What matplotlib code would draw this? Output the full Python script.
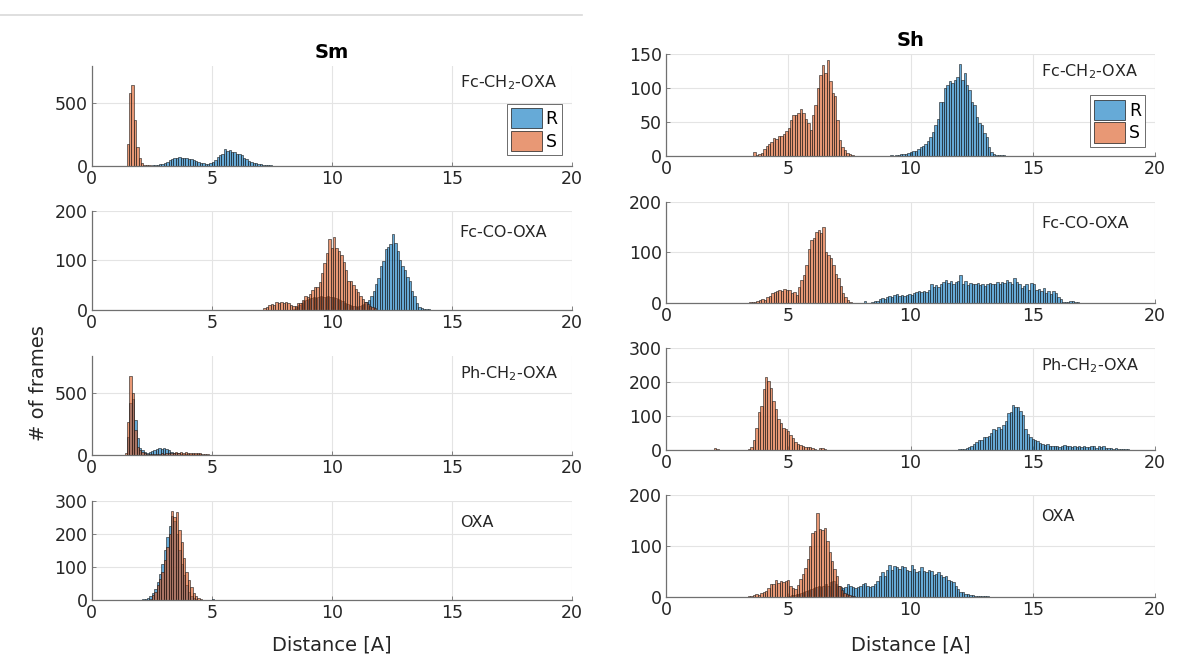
import numpy as np
import matplotlib
matplotlib.use('Agg')
import matplotlib.pyplot as plt
from matplotlib.patches import Patch
from matplotlib.lines import Line2D

BIN = 0.1
R_COLOR = (0.0, 0.447, 0.741, 0.6)
S_COLOR = (0.85, 0.325, 0.098, 0.6)
EDGE = '#1a1a1a'
AXIS_COLOR = '#707070'
TEXT_COLOR = '#262626'
TICK_SIZE = 12.5
LABEL_SIZE = 14

# ---- Sm column (counts per 0.1 A bin, first bin edge given by *_start) ----
sm_fc_ch2_r_start = 2.5
sm_fc_ch2_r = [2, 4, 8, 12, 16, 22, 30, 45, 56, 65, 62, 66, 64, 59, 62, 54, 50, 46, 38, 30,
               22, 19, 15, 13, 18, 30, 45, 70, 88, 97, 134, 118, 125, 110, 108, 97, 90, 83, 62, 51,
               35, 30, 22, 18, 14, 11, 8, 5, 3, 2]
sm_fc_ch2_s_start = 1.45
sm_fc_ch2_s = [172, 580, 645, 366, 150, 65, 20, 8, 4, 2, 1]

sm_fc_co_r_start = 8.4
sm_fc_co_r = [3, 6, 10, 14, 18, 20, 22, 24, 26, 25, 27, 28, 26, 27, 28, 27, 26, 25, 22, 20,
              18, 15, 12, 10, 9, 8, 7, 8, 10, 12, 16,
              21, 29, 38, 52, 64, 88, 98, 123, 127, 132, 153, 135, 118, 101, 89, 81, 66, 58, 38,
              29, 14, 7, 5, 3, 2, 2, 1, 1]
sm_fc_co_s_start = 7.15
sm_fc_co_s = [5, 7, 11, 13, 10, 16, 15, 17, 14, 17, 14, 11, 9, 8, 15, 14, 21, 29, 26, 33,
              41, 46, 46, 56, 74, 95, 115, 143, 125, 148, 125, 118, 111, 96, 81, 59, 58, 51, 42, 36,
              28, 22, 17, 13, 9, 6, 4]

sm_ph_ch2_r_start = 1.37
sm_ph_ch2_r = [5, 150, 420, 450, 286, 135, 55, 40, 28, 22, 25, 35, 45, 52, 55, 52, 55, 50, 42, 30,
               22, 18, 15, 14, 12, 12, 10, 10, 9, 8, 8, 7, 6, 5, 5, 4, 4, 3, 3, 3,
               2, 2, 2, 2, 1, 1]
sm_ph_ch2_s_start = 1.37
sm_ph_ch2_s = [16, 265, 635, 497, 200, 70, 40, 25, 15, 10, 8, 8, 10, 12, 12, 15, 14, 16, 18, 20,
               22, 24, 22, 25, 22, 24, 22, 20, 22, 20, 18, 16, 14, 10, 8, 6, 5, 4, 3, 2,
               2, 2, 1]

sm_oxa_r_start = 2.0
sm_oxa_r = [1, 3, 5, 7, 12, 22, 35, 55, 80, 110, 150, 190, 225, 255, 240, 200, 150, 110, 75, 45,
            25, 12, 6, 3, 2, 1, 0, 0, 0, 2, 3, 2, 1, 2, 1, 2, 1, 0, 0, 0,
            0, 0, 0, 0, 0, 0, 0, 0, 0, 0, 1, 2, 0, 1, 2, 1, 1, 2]
sm_oxa_s_start = 2.0
sm_oxa_s = [0, 0, 1, 2, 5, 16, 26, 45, 65, 85, 121, 160, 200, 270, 250, 265, 211, 176, 126, 86,
            60, 40, 22, 12, 6, 3, 1]

# ---- Sh column ----
sh_fc_ch2_r_start = 9.17
sh_fc_ch2_r = [1, 0, 2, 2, 3, 3, 3, 4, 6, 7, 8, 10, 13, 15, 18, 22, 28, 36, 45, 55,
               80, 80, 100, 104, 110, 108, 112, 116, 136, 112, 122, 105, 97, 80, 75, 58, 48, 46, 34, 28,
               13, 6, 3, 2, 2, 1, 1]
sh_fc_ch2_s_start = 3.57
sh_fc_ch2_s = [6, 2, 3, 5, 11, 15, 18, 21, 26, 25, 29, 30, 33, 37, 42, 53, 60, 60, 64, 70,
               64, 54, 48, 39, 61, 75, 100, 120, 134, 122, 142, 110, 93, 88, 53, 24, 14, 9, 5, 3, 2]

sh_fc_co_r_start = 8.1
sh_fc_co_r = [5, 0, 0, 2, 4, 5, 8, 10, 9, 12, 14, 12, 16, 18, 14, 17, 15, 17, 19, 17,
              20, 22, 24, 23, 24, 23, 27, 37, 33, 36, 33, 38, 42, 46, 40, 44, 38, 42, 44, 55,
              38, 44, 36, 40, 38, 37, 40, 36, 38, 35, 38, 40, 38, 37, 42, 38, 42, 40, 46, 42,
              38, 50, 42, 38, 30, 35, 38, 27, 39, 38, 26, 28, 24, 30, 20, 24, 18, 25, 20, 12,
              8, 3, 2, 3, 4, 4, 3, 2, 1, 1, 1]
sh_fc_co_s_start = 3.3
sh_fc_co_s = [1, 2, 2, 3, 5, 6, 8, 7, 12, 14, 20, 22, 24, 27, 24, 28, 27, 26, 20, 22,
              16, 32, 45, 55, 75, 107, 125, 128, 140, 145, 138, 150, 100, 95, 90, 75, 58, 50, 35, 20,
              12, 6, 3, 1]

sh_ph_ch2_r_start = 11.95
sh_ph_ch2_r = [2, 2, 3, 5, 8, 12, 18, 22, 28, 30, 38, 38, 40, 50, 62, 58, 68, 60, 72, 85,
               108, 112, 131, 125, 126, 115, 102, 60, 45, 38, 32, 28, 25, 20, 18, 15, 18, 12, 10, 12,
               11, 9, 12, 14, 10, 12, 8, 10, 9, 12, 8, 12, 9, 8, 10, 10, 6, 11, 7, 10,
               5, 5, 4, 3, 4, 2, 3, 2, 2, 1]
sh_ph_ch2_s_start = 1.95
sh_ph_ch2_s = [4, 3, 0, 0, 0, 0, 0, 0, 0, 0, 0, 0, 0, 0,
               3, 7, 29, 63, 110, 129, 179, 213, 203, 181, 145, 119, 90, 78, 63, 60,
               55, 43, 34, 24, 17, 14, 11, 9, 8, 7, 4, 1, 0, 4, 4, 3]

sh_oxa_r_start = 5.0
sh_oxa_r = [2, 3, 4, 5, 6, 8, 10, 12, 14, 16, 18, 20, 22, 20, 22, 25, 22, 28, 30, 25,
            22, 20, 18, 20, 24, 22, 20, 18, 20, 22, 24, 26, 22, 20, 22, 25, 30, 40, 48, 40,
            52, 62, 52, 60, 58, 55, 60, 58, 52, 50, 62, 55, 48, 50, 58, 50, 48, 52, 50, 42,
            45, 48, 42, 38, 40, 33, 30, 28, 22, 15, 10, 10, 6, 5, 4, 3, 2, 2, 1, 2, 1, 2]
sh_oxa_s_start = 3.35
sh_oxa_s = [1, 2, 3, 5, 4, 7, 10, 12, 18, 24, 25, 33, 26, 30, 28, 31, 32, 22, 18, 16,
            23, 35, 45, 56, 74, 100, 125, 130, 164, 133, 131, 135, 109, 88, 70, 55, 40, 22, 14, 8,
            5, 3, 2, 1]

panel_labels = ['Fc-CH$_2$-OXA', 'Fc-CO-OXA', 'Ph-CH$_2$-OXA', 'OXA']
label_y = [0.83, 0.785, 0.823, 0.785]

sm_panels = [(sm_fc_ch2_r_start, sm_fc_ch2_r, sm_fc_ch2_s_start, sm_fc_ch2_s),
             (sm_fc_co_r_start, sm_fc_co_r, sm_fc_co_s_start, sm_fc_co_s),
             (sm_ph_ch2_r_start, sm_ph_ch2_r, sm_ph_ch2_s_start, sm_ph_ch2_s),
             (sm_oxa_r_start, sm_oxa_r, sm_oxa_s_start, sm_oxa_s)]
sh_panels = [(sh_fc_ch2_r_start, sh_fc_ch2_r, sh_fc_ch2_s_start, sh_fc_ch2_s),
             (sh_fc_co_r_start, sh_fc_co_r, sh_fc_co_s_start, sh_fc_co_s),
             (sh_ph_ch2_r_start, sh_ph_ch2_r, sh_ph_ch2_s_start, sh_ph_ch2_s),
             (sh_oxa_r_start, sh_oxa_r, sh_oxa_s_start, sh_oxa_s)]

sm_ylims = [800, 200, 800, 300]
sm_yticks = [[0, 500], [0, 100, 200], [0, 500], [0, 100, 200, 300]]
sh_ylims = [150, 200, 300, 200]
sh_yticks = [[0, 50, 100, 150], [0, 100, 200], [0, 100, 200, 300], [0, 100, 200]]

W, H = 1178, 655
fig = plt.figure(figsize=(W / 100, H / 100), dpi=100)

# pixel geometry of the axes boxes (left, width, bottoms, height)
columns = [
    dict(name='Sm', x0=91.7, w=480, bottoms=[165.7, 310.3, 455.3, 600.3], h=99.7,
         panels=sm_panels, ylims=sm_ylims, yticks=sm_yticks, xpad=9.5),
    dict(name='Sh', x0=666, w=489, bottoms=[156, 303.3, 449.7, 596.7], h=101.7,
         panels=sh_panels, ylims=sh_ylims, yticks=sh_yticks, xpad=12),
]

for col in columns:
    for row in range(4):
        ax = fig.add_axes([col['x0'] / W, 1 - col['bottoms'][row] / H, col['w'] / W, col['h'] / H])
        r_start, r_counts, s_start, s_counts = col['panels'][row]
        r_counts = np.array(r_counts, dtype=float)
        s_counts = np.array(s_counts, dtype=float)
        ax.bar(r_start + BIN * np.arange(len(r_counts)), r_counts, width=BIN, align='edge',
               color=R_COLOR, edgecolor=EDGE, linewidth=0.4, label='R')
        ax.bar(s_start + BIN * np.arange(len(s_counts)), s_counts, width=BIN, align='edge',
               color=S_COLOR, edgecolor=EDGE, linewidth=0.4, label='S')

        ax.set_xlim(0, 20)
        ax.set_ylim(0, col['ylims'][row])
        ax.set_xticks([0, 5, 10, 15, 20])
        ax.set_yticks(col['yticks'][row])
        ax.grid(True, color='#e4e4e4', linewidth=0.8)
        ax.set_axisbelow(True)
        for side in ['top', 'right']:
            ax.spines[side].set_visible(False)
        for side in ['left', 'bottom']:
            ax.spines[side].set_color(AXIS_COLOR)
            ax.spines[side].set_linewidth(0.9)
        ax.tick_params(direction='in', length=3, width=0.6, color=AXIS_COLOR,
                       labelsize=TICK_SIZE, labelcolor=TEXT_COLOR, pad=3)

        ax.text(0.767, label_y[row], panel_labels[row], transform=ax.transAxes,
                fontsize=11.5, ha='left', va='center', color=TEXT_COLOR)

        if row == 0:
            ax.set_title(col['name'], fontsize=14, fontweight='bold', pad=6, color='black')
            handles = [Patch(facecolor=R_COLOR, edgecolor=EDGE, linewidth=0.5),
                       Patch(facecolor=S_COLOR, edgecolor=EDGE, linewidth=0.5)]
            leg = ax.legend(handles, ['R', 'S'], loc='upper right',
                            bbox_to_anchor=(0.98, 0.62 if col['name'] == 'Sm' else 0.595),
                            fontsize=12.5, frameon=True, fancybox=False, framealpha=1,
                            handlelength=1.8, handleheight=1.4, handletextpad=0.2,
                            borderpad=0.25, labelspacing=0.15, borderaxespad=0)
            leg.get_frame().set_edgecolor('#555555')
            leg.get_frame().set_linewidth(0.6)
        if row == 3:
            ax.set_xlabel('Distance [A]', fontsize=LABEL_SIZE, color=TEXT_COLOR,
                          labelpad=col['xpad'])

fig.text(38 / W, 1 - 383 / H, '# of frames', rotation=90, fontsize=LABEL_SIZE,
         ha='center', va='center', color=TEXT_COLOR)
fig.add_artist(Line2D([0, 582 / W], [1 - 15 / H, 1 - 15 / H], color='#d9d9d9', linewidth=1.2))

fig.savefig('out.png', dpi=100, facecolor='white')
